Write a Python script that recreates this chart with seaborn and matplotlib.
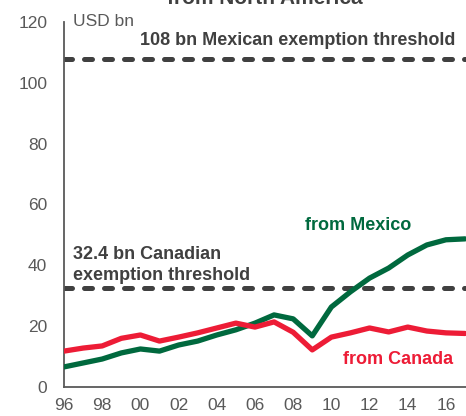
import pandas as pd
import numpy as np
import matplotlib
matplotlib.use("Agg")
import matplotlib.pyplot as plt
import seaborn as sns

years = list(range(1996, 2018))
from_mexico = [6.6, 7.9, 9.2, 11.2, 12.5, 11.8, 13.8, 15.1, 17.1, 18.8, 21.0, 23.7,
               22.4, 16.8, 26.3, 31.3, 35.8, 39.1, 43.4, 46.7, 48.4, 48.7]
from_canada = [11.8, 12.8, 13.5, 16.0, 17.1, 15.1, 16.4, 17.8, 19.4, 21.0, 19.7, 21.4,
               18.0, 12.2, 16.4, 17.8, 19.4, 18.1, 19.7, 18.4, 17.8, 17.6]
mex_threshold = 108
can_threshold = 32.4
xtick_years = list(range(1996, 2017, 2))
xtick_labels = ["96", "98", "00", "02", "04", "06", "08", "10", "12", "14", "16"]
yticks = [0, 20, 40, 60, 80, 100, 120]

df = pd.DataFrame({"year": years * 2,
                   "value": from_mexico + from_canada,
                   "series": ["from Mexico"] * len(years) + ["from Canada"] * len(years)})

sns.set_style("white")
plt.rcParams['font.family'] = ['Liberation Sans', 'DejaVu Sans']

green = "#00693E"
red = "#ED1C36"
dark = "#404040"
axis_grey = "#595959"

fig = plt.figure(figsize=(4.66, 4.16), dpi=100)
ax = fig.add_axes([64 / 466, 1 - 387 / 416, 1 - 64 / 466, (387 - 22) / 416])

# thresholds
dash = (0, (1.6, 2.4))
ax.axhline(mex_threshold, color=dark, lw=3.6, ls=dash, dash_capstyle="round", zorder=1)
ax.axhline(can_threshold, color=dark, lw=3.6, ls=dash, dash_capstyle="round", zorder=1)

sns.lineplot(data=df, x="year", y="value", hue="series",
             palette={"from Mexico": green, "from Canada": red},
             lw=3.8, legend=False, ax=ax, zorder=3)

ax.set_xlim(1996, 2017.05)
ax.set_ylim(0, 120)
ax.set_xticks(xtick_years)
ax.set_xticklabels(xtick_labels)
ax.set_yticks(yticks)
ax.set_xlabel("")
ax.set_ylabel("")

for s in ["top", "right"]:
    ax.spines[s].set_visible(False)
for s in ["left", "bottom"]:
    ax.spines[s].set_color(axis_grey)
    ax.spines[s].set_linewidth(1.3)
ax.spines["bottom"].set_zorder(4)

ax.tick_params(axis="y", direction="in", length=5, width=1.3, color=axis_grey,
               labelcolor=axis_grey, labelsize=12.5, pad=12)
ax.tick_params(axis="x", direction="out", length=5, width=1.3, color=axis_grey,
               labelcolor=axis_grey, labelsize=12.5, pad=3)

ax.text(1996.45, 120.2, "USD bn", fontsize=12.5, color=axis_grey, va="center", ha="left")
ax.text(2016.47, 113.8, "108 bn Mexican exemption threshold", fontsize=13,
        fontweight="bold", color=dark, ha="right", va="center")
ax.text(1996.45, 43.4, "32.4 bn Canadian", fontsize=13,
        fontweight="bold", color=dark, ha="left", va="center")
ax.text(1996.45, 36.8, "exemption threshold", fontsize=13,
        fontweight="bold", color=dark, ha="left", va="center")
ax.text(2011.4, 53.0, "from Mexico", fontsize=13, fontweight="bold",
        color=green, ha="center", va="center")
ax.text(2013.5, 8.9, "from Canada", fontsize=13, fontweight="bold",
        color=red, ha="center", va="center")

fig.text(265 / 466, 1 - 4 / 416, "from North America", fontsize=15, fontweight="bold",
         color=dark, ha="center", va="baseline")

fig.savefig("out.png", dpi=100)
